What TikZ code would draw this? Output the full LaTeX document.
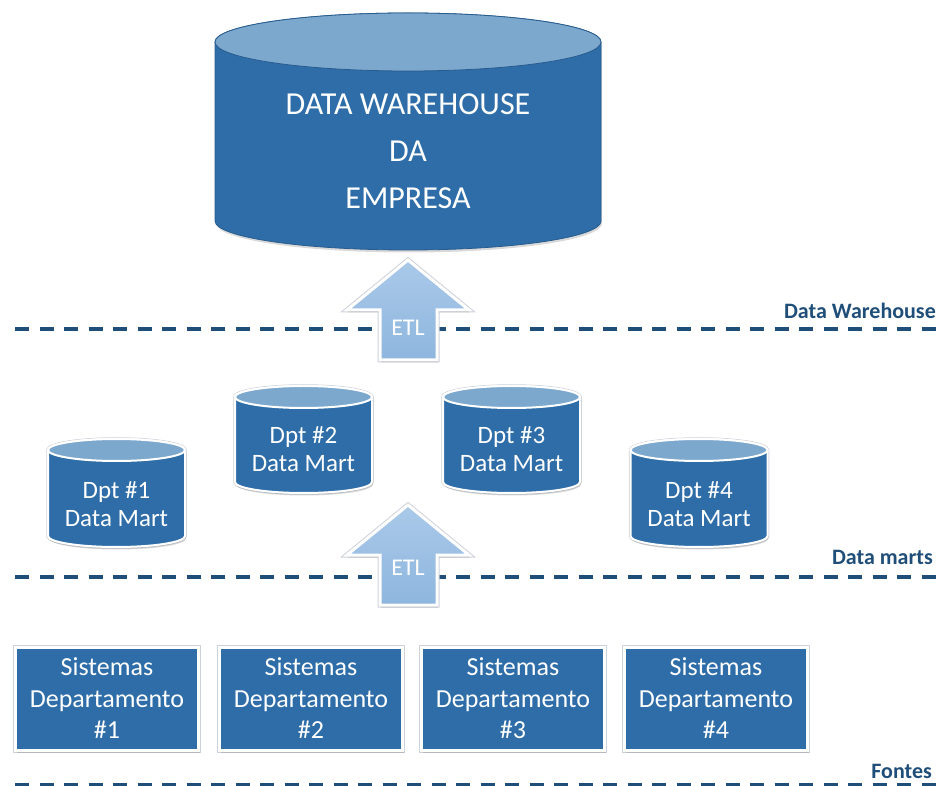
\documentclass[tikz,border=0pt]{standalone}
\usepackage{fontspec}
\setmainfont{Carlito}
\usetikzlibrary{shadows}

\definecolor{dbody}{RGB}{46,109,168}
\definecolor{dtop}{RGB}{125,168,206}
\definecolor{dedge}{RGB}{40,92,142}
\definecolor{dline}{RGB}{31,78,121}
\definecolor{etltop}{RGB}{170,201,233}
\definecolor{etlbot}{RGB}{142,182,222}
\definecolor{halo}{RGB}{205,210,218}

\tikzset{
  softshadow/.style={drop shadow={opacity=0.3, shadow xshift=1pt, shadow yshift=-2.5pt}},
  haloline/.style={preaction={draw=halo, line width=#1}},
  layerline/.style={draw=dline, line width=4pt, dash pattern=on 14pt off 10.5pt},
  layerlabel/.style={anchor=east, text=dline, inner sep=0pt, font=\bfseries\fontsize{22}{26}\selectfont},
  srcbox/.style={haloline=5pt, draw=white, line width=3pt, fill=dbody, softshadow, minimum width=183pt,
    minimum height=103pt, text=white, align=center, inner sep=0pt,
    font=\fontsize{26}{31.5}\selectfont},
  cylbody/.style={haloline=3.5pt, fill=dbody, draw=white, line width=2pt, softshadow},
  cyltop/.style={fill=dtop, draw=white, line width=2pt},
  marttext/.style={text=white, align=center, inner sep=0pt, font=\fontsize{25}{28}\selectfont},
  etlarrow/.style={haloline=5pt, draw=white, line width=3pt, line join=miter, top color=etltop,
    bottom color=etlbot, softshadow},
  etltext/.style={text=white, inner sep=0pt, font=\fontsize{24}{28}\selectfont},
}

% small data mart cylinder: centre x, top ellipse y, bottom ellipse y
\newcommand\martcyl[3]{%
  \path[cylbody] (#1-68.5,#2) -- (#1-68.5,#3)
    arc[start angle=180, end angle=360, x radius=68.5, y radius=11]
    -- (#1+68.5,#2)
    arc[start angle=0, end angle=180, x radius=68.5, y radius=11] -- cycle;
  \path[cyltop] (#1,#2) ellipse[x radius=68.5, y radius=11];
}

% ETL arrow pointing up: bottom y of shaft
\newcommand\etlshape[1]{%
  \path[etlarrow] (380,#1) -- (380,#1+50) -- (347,#1+50) -- (408,#1+100)
    -- (469,#1+50) -- (437,#1+50) -- (437,#1) -- cycle;
}

\begin{document}
\begin{tikzpicture}[x=1pt, y=1pt]
  \useasboundingbox (0,0) rectangle (939,785);

  % layer separators
  \coordinate (dwL) at (15,456);  \coordinate (dwR) at (939,456);
  \coordinate (dmL) at (15,208);  \coordinate (dmR) at (939,208);
  \coordinate (fnL) at (15,0.5);  \coordinate (fnR) at (939,0.5);
  \draw[layerline] (dwL) -- (dwR);
  \draw[layerline] (dmL) -- (dmR);
  \draw[layerline] (fnL) -- (fnR);

  \node[layerlabel] (lblDW) at (936,474) {Data Warehouse};
  \node[layerlabel] (lblDM) at (933,228) {Data marts};
  \node[layerlabel] (lblFN) at (932,14) {Fontes};

  % enterprise data warehouse
  \path[fill=dbody, draw=dedge, line width=0.8pt, softshadow]
    (215,743) -- (215,564)
    arc[start angle=180, end angle=360, x radius=193, y radius=29]
    -- (601,743)
    arc[start angle=0, end angle=180, x radius=193, y radius=29] -- cycle;
  \path[fill=dtop, draw=dedge, line width=0.8pt] (408,743) ellipse[x radius=193, y radius=29];
  \node[text=white, align=center, inner sep=0pt, font=\fontsize{32}{47}\selectfont]
    (dw) at (408,634) {DATA WAREHOUSE\\DA\\EMPRESA};

  % ETL arrows
  \etlshape{425}
  \node[etltext] (etl1) at (408,457) {ETL};
  \etlshape{180}
  \node[etltext] (etl2) at (408,217) {ETL};

  % departmental data marts
  \martcyl{116.5}{335}{249}
  \node[marttext] (dm1) at (116.5,281) {Dpt \#1\\Data Mart};
  \martcyl{303.5}{388}{303}
  \node[marttext] (dm2) at (303.5,336) {Dpt \#2\\Data Mart};
  \martcyl{511.5}{388}{303}
  \node[marttext] (dm3) at (511.5,336) {Dpt \#3\\Data Mart};
  \martcyl{699}{335}{249}
  \node[marttext] (dm4) at (699,281) {Dpt \#4\\Data Mart};

  % source systems
  \node[srcbox] (src1) at (107,86.5) {Sistemas\\Departamento\\\#1};
  \node[srcbox] (src2) at (311,86.5) {Sistemas\\Departamento\\\#2};
  \node[srcbox] (src3) at (513,86.5) {Sistemas\\Departamento\\\#3};
  \node[srcbox] (src4) at (716,86.5) {Sistemas\\Departamento\\\#4};
\end{tikzpicture}
\end{document}
